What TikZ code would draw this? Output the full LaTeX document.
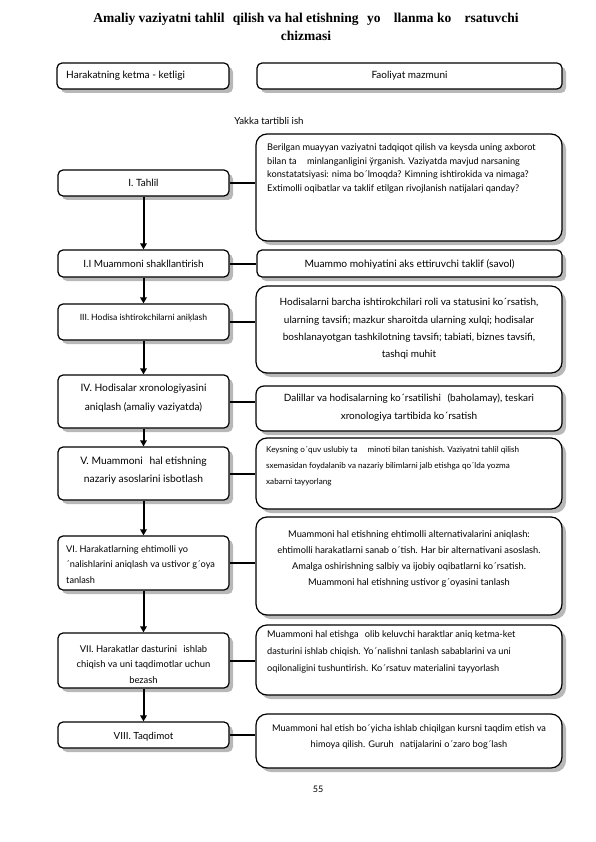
\documentclass[tikz,border=0pt]{standalone}
\usepackage{fontspec}
\setmainfont{Lato}
\newfontfamily\titlefont{Liberation Serif}
\usetikzlibrary{shadows,arrows.meta}
\tikzset{
  box/.style={draw, line width=1.2pt, rounded corners=5pt, fill=white, inner sep=0pt,
    drop shadow={shadow xshift=4pt, shadow yshift=-4pt, fill=black!28, opacity=1}},
  bigbox/.style={box, rounded corners=11pt},
  txt/.style={inner sep=0pt, font=\fontsize{8}{13.5}\selectfont},
  conn/.style={line width=2pt},
  arr/.style={line width=2pt, -{Triangle[length=6pt,width=6.5pt]}}
}
\begin{document}
\begin{tikzpicture}[x=1pt,y=-1pt]
\useasboundingbox (0,0) rectangle (595,842);
% title
\node[inner sep=0pt, align=center, font=\titlefont\bfseries\fontsize{13.5}{18}\selectfont] (title) at (306,27)
 {Amaliy vaziyatni tahlil\hspace{5pt} qilish va hal etishning\hspace{5pt} yo\hspace{10pt} llanma ko\hspace{10pt} rsatuvchi\\ chizmasi};
% header boxes
\node[box, minimum width=172pt, minimum height=26pt] (h1) at (143,76) {};
\node[txt, anchor=west, font=\fontsize{10.1}{13}\selectfont] (h1t) at (66,76) {Harakatning ketma - ketligi};
\node[box, minimum width=305pt, minimum height=26pt] (h2) at (409.5,76) {};
\node[txt, font=\fontsize{10}{13}\selectfont] (h2t) at (409.5,76) {Faoliyat mazmuni};
\node[txt, font=\fontsize{9.7}{13}\selectfont] (yakka) at (269,121) {Yakka tartibli ish};
% left boxes
\node[box, minimum width=171pt, minimum height=26pt] (l1) at (143.5,183) {};
\node[txt, font=\fontsize{10}{13}\selectfont] (l1t) at (143.5,183) {I. Tahlil};
\node[box, minimum width=171pt, minimum height=27pt] (l2) at (143.5,263.5) {};
\node[txt, font=\fontsize{10}{13}\selectfont] (l2t) at (143.5,264) {I.I Muammoni shakllantirish};
\node[box, minimum width=171pt, minimum height=36pt] (l3) at (143.5,322) {};
\node[txt, font=\fontsize{8.6}{13}\selectfont] (l3t) at (143.5,318) {III. Hodisa ishtirokchilarni aniķlash};
\node[box, minimum width=171pt, minimum height=53pt] (l4) at (143.5,401.5) {};
\node[txt, align=center, font=\fontsize{10.2}{19}\selectfont] (l4t) at (143.5,398.5) {IV. Hodisalar xronologiyasini\\aniqlash (amaliy vaziyatda)};
\node[box, minimum width=171pt, minimum height=53pt] (l5) at (143.5,473.5) {};
\node[txt, align=center, font=\fontsize{10.3}{18}\selectfont] (l5t) at (143.5,471) {V. Muammoni\hspace{4pt} hal etishning\\nazariy asoslarini isbotlash};
\node[box, minimum width=171pt, minimum height=54pt] (l6) at (143.5,563) {};
\node[txt, align=left, anchor=west, font=\fontsize{9.2}{15.5}\selectfont] (l6t) at (66,564.5) {VI. Harakatlarning ehtimolli yo\\´nalishlarini aniqlash va ustivor g´oya\\tanlash};
\node[box, minimum width=171pt, minimum height=55pt] (l7) at (143.5,660.5) {};
\node[txt, align=center, font=\fontsize{9.4}{15.5}\selectfont] (l7t) at (143.5,664.5) {VII. Harakatlar dasturini\hspace{4pt} ishlab\\chiqish va uni taqdimotlar uchun\\bezash};
\node[box, minimum width=171pt, minimum height=26pt] (l8) at (143.5,735) {};
\node[txt, font=\fontsize{9.8}{13}\selectfont] (l8t) at (143.5,737) {VIII. Taqdimot};
% right boxes
\node[bigbox, minimum width=306pt, minimum height=107pt] (r1) at (409,187.5) {};
\node[txt, align=left, anchor=north west, font=\fontsize{9.2}{13.4}\selectfont] (r1t) at (267,144)
 {Berilgan muayyan vaziyatni tadqiqot qilish va keysda uning axborot\\bilan ta\hspace{8pt} minlanganligini ўrganish. Vaziyatda mavjud narsaning\\konstatatsiyasi: nima bo´lmoqda? Kimning ishtirokida va nimaga?\\Extimolli oqibatlar va taklif etilgan rivojlanish natijalari qanday?};
\node[box, minimum width=305pt, minimum height=27pt] (r2) at (409.5,263.5) {};
\node[txt, font=\fontsize{10.2}{13}\selectfont] (r2t) at (409.5,264) {Muammo mohiyatini aks ettiruvchi taklif (savol)};
\node[bigbox, minimum width=306pt, minimum height=87pt] (r3) at (409,329.5) {};
\node[txt, align=center, font=\fontsize{10}{17.3}\selectfont] (r3t) at (409,329)
 {Hodisalarni barcha ishtirokchilari roli va statusini ko´rsatish,\\ularning tavsifi; mazkur sharoitda ularning xulqi; hodisalar\\boshlanayotgan tashkilotning tavsifi; tabiati, biznes tavsifi,\\tashqi muhit};
\node[box, rounded corners=8pt, minimum width=306pt, minimum height=45pt] (r4) at (409,408.5) {};
\node[txt, align=center, font=\fontsize{10}{18}\selectfont] (r4t) at (409,408)
 {Dalillar va hodisalarning ko´rsatilishi\hspace{4pt} (baholamay), teskari\\xronologiya tartibida ko´rsatish};
\node[bigbox, minimum width=306pt, minimum height=71pt] (r5) at (409,473.5) {};
\node[txt, align=left, anchor=north west, font=\fontsize{8.1}{16}\selectfont] (r5t) at (266,446)
 {Keysning o´quv uslubiy ta\hspace{8pt} minoti bilan tanishish. Vaziyatni tahlil qilish\\sxemasidan foydalanib va nazariy bilimlarni jalb etishga qo´lda yozma\\xabarni tayyorlang};
\node[bigbox, minimum width=306pt, minimum height=98pt] (r6) at (409,566) {};
\node[txt, align=center, font=\fontsize{9.3}{16}\selectfont] (r6t) at (409,559)
 {Muammoni hal etishning ehtimolli alternativalarini aniqlash:\\ehtimolli harakatlarni sanab o´tish. Har bir alternativani asoslash.\\Amalga oshirishning salbiy va ijobiy oqibatlarni ko´rsatish.\\Muammoni hal etishning ustivor g´oyasini tanlash};
\node[bigbox, minimum width=306pt, minimum height=70pt] (r7) at (409,660) {};
\node[txt, align=left, anchor=north west, font=\fontsize{9.2}{17}\selectfont] (r7t) at (267,631)
 {Muammoni hal etishga\hspace{4pt} olib keluvchi haraktlar aniq ketma-ket\\dasturini ishlab chiqish. Yo´nalishni tanlash sabablarini va uni\\oqilonaligini tushuntirish. Ko´rsatuv materialini tayyorlash};
\node[bigbox, minimum width=306pt, minimum height=54pt] (r8) at (409,741) {};
\node[txt, align=center, font=\fontsize{9.2}{16}\selectfont] (r8t) at (409,737)
 {Muammoni hal etish bo´yicha ishlab chiqilgan kursni taqdim etish va\\himoya qilish. Guruh\hspace{4pt} natijalarini o´zaro bog´lash};
% page number
\node[txt, font=\fontsize{9}{12}\selectfont] (pg) at (318,789) {55};
% connectors
\foreach \a/\b in {l1/r1,l2/r2,l3/r3,l4/r4,l5/r5,l6/r6,l7/r7,l8/r8}
  \draw[conn] (\a.east) -- (\a.east -| \b.west);
% arrows
\foreach \a/\b in {l1/l2,l2/l3,l3/l4,l4/l5,l5/l6,l6/l7,l7/l8}
  \draw[arr] (\a.south) -- (\b.north);
\end{tikzpicture}
\end{document}
